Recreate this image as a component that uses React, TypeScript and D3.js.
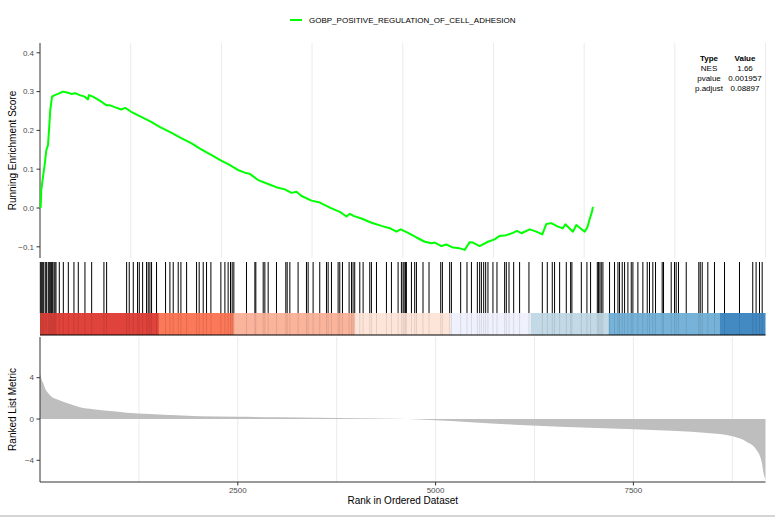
import React from "react";
import * as d3 from "d3";

const W = 775;
const H = 517;

const geneSetName = "GOBP_POSITIVE_REGULATION_OF_CELL_ADHESION";
const totalRanks = 9170;

// running enrichment score (rank, score)
const esRank = [0, 9, 16, 38, 59, 80, 101, 114, 130, 152, 186, 227, 290, 354, 395, 446, 501, 565, 606, 619, 669, 754, 837, 880, 943, 1027, 1077, 1153, 1279, 1406, 1512, 1658, 1785, 1911, 2037, 2164, 2290, 2396, 2501, 2589, 2652, 2757, 2884, 3010, 3095, 3179, 3242, 3306, 3432, 3537, 3685, 3790, 3874, 3916, 3970, 4063, 4190, 4316, 4421, 4505, 4560, 4652, 4758, 4863, 4947, 4989, 5074, 5137, 5220, 5305, 5368, 5389, 5431, 5473, 5557, 5662, 5747, 5810, 5894, 5978, 6028, 6084, 6189, 6274, 6349, 6400, 6463, 6546, 6609, 6640, 6736, 6779, 6884, 6918, 6947, 6976, 6989];
const esScore = [0.0, 0.003, 0.046, 0.081, 0.111, 0.149, 0.162, 0.201, 0.253, 0.287, 0.291, 0.294, 0.3, 0.297, 0.294, 0.296, 0.291, 0.287, 0.28, 0.291, 0.287, 0.277, 0.265, 0.265, 0.26, 0.254, 0.258, 0.248, 0.235, 0.222, 0.209, 0.194, 0.18, 0.167, 0.151, 0.137, 0.122, 0.111, 0.098, 0.091, 0.088, 0.072, 0.062, 0.052, 0.048, 0.039, 0.042, 0.031, 0.019, 0.014, -0.001, -0.01, -0.022, -0.015, -0.021, -0.027, -0.038, -0.046, -0.052, -0.061, -0.055, -0.064, -0.076, -0.087, -0.091, -0.089, -0.098, -0.094, -0.102, -0.104, -0.108, -0.101, -0.088, -0.089, -0.098, -0.087, -0.081, -0.072, -0.07, -0.064, -0.059, -0.065, -0.055, -0.061, -0.068, -0.041, -0.039, -0.048, -0.052, -0.042, -0.061, -0.044, -0.061, -0.05, -0.029, -0.01, 0.003];

// positions of gene-set members in the ranked list
const hitRanks = [4, 17, 34, 47, 67, 84, 105, 118, 135, 147, 160, 177, 189, 202, 244, 295, 358, 429, 484, 568, 653, 808, 842, 1095, 1128, 1179, 1233, 1255, 1297, 1347, 1368, 1389, 1410, 1473, 1587, 1642, 1684, 1747, 1781, 1853, 1979, 2012, 2063, 2105, 2160, 2286, 2337, 2378, 2408, 2429, 2450, 2610, 2716, 2728, 2821, 2842, 2884, 2989, 3107, 3124, 3158, 3262, 3368, 3389, 3452, 3536, 3621, 3642, 3684, 3768, 3789, 3823, 3907, 3937, 3957, 3978, 4042, 4084, 4168, 4189, 4253, 4379, 4442, 4526, 4568, 4589, 4602, 4619, 4631, 4695, 4736, 4758, 4841, 4917, 5065, 5086, 5178, 5200, 5317, 5397, 5453, 5528, 5557, 5579, 5608, 5633, 5662, 5725, 5776, 5873, 5894, 5928, 5987, 6062, 6180, 6349, 6412, 6475, 6504, 6568, 6652, 6707, 6723, 6842, 6913, 6959, 7044, 7060, 7077, 7094, 7115, 7199, 7262, 7305, 7325, 7359, 7389, 7431, 7473, 7494, 7557, 7620, 7675, 7704, 7746, 7780, 7864, 7881, 7978, 8020, 8041, 8070, 8168, 8327, 8345, 8370, 8441, 8525, 8652, 8841, 9009, 9051, 9094, 9128];

// colour band
const bandBreaks = [0, 1503, 2450, 3978, 5191, 6201, 7186, 8588, 9170];
const bandColors = ["#E0433B", "#FB7858", "#FBB49C", "#FEE5D9", "#EFF2FD", "#C3DAE6", "#77B3D9", "#4389C2"];

// ranked list metric (rank, value)
const metricRank = [0, 21, 42, 63, 105, 147, 211, 294, 379, 505, 673, 884, 1095, 1389, 1726, 2020, 2500, 3000, 3500, 4000, 4500, 4800, 5200, 5600, 6000, 6570, 7500, 8475, 8765, 8930, 9057, 9120, 9150, 9170];
const metricValue = [4.45, 3.78, 3.45, 2.97, 2.49, 2.16, 1.91, 1.68, 1.45, 1.13, 0.94, 0.77, 0.61, 0.48, 0.36, 0.27, 0.22, 0.17, 0.12, 0.07, 0.02, -0.05, -0.2, -0.38, -0.55, -0.74, -1.0, -1.39, -1.7, -2.2, -3.0, -4.1, -5.4, -5.9];

const xTicks = [2500, 5000, 7500];
const topYTicks = [-0.1, 0.0, 0.1, 0.2, 0.3, 0.4];
const bottomYTicks = [-4, 0, 4];

const tableHeader = ["Type", "Value"];
const tableTypes = ["NES", "pvalue", "p.adjust"];
const tableValues = ["1.66", "0.001957", "0.08897"];

const FONT = "'Liberation Sans', Arial, sans-serif";

export default function App() {
  const left = 40;
  const right = 765.5;
  const x = d3.scaleLinear().domain([0, totalRanks]).range([left, right]);

  // top panel
  const topT = 43;
  const topB = 258;
  const yTop = d3.scaleLinear().domain([-0.1, 0.4]).range([246.8, 52.8]);
  const topGrid = d3.range(1, 9).map((k) => left + ((right - left) * k) / 8);

  // barcode panel
  const barT = 262;
  const barB = 313;
  const bandB = 335;

  // bottom panel
  const botT = 337;
  const botB = 482;
  const yBot = d3.scaleLinear().domain([-6.1, 7.94]).range([botB, botT]);
  const botGrid = d3.range(1, 8).map((k) => 1250 * k);

  const esData = esRank.map((r, i) => [r, esScore[i]] as [number, number]);
  const line = d3
    .line<[number, number]>()
    .x((d) => x(d[0]))
    .y((d) => yTop(d[1]));

  const mData = metricRank.map((r, i) => [r, metricValue[i]] as [number, number]);
  const area = d3
    .area<[number, number]>()
    .x((d) => x(d[0]))
    .y0(yBot(0))
    .y1((d) => yBot(d[1]))
    .curve(d3.curveMonotoneX);

  const tickColor = "#4D4D4D";

  return (
    <svg
      width={W}
      height={H}
      style={{ position: "absolute", left: 0, top: 0, background: "#fff" }}
      fontFamily={FONT}
    >
      <rect x={0} y={0} width={W} height={H} fill="#fff" />

      {/* legend */}
      <line x1={290} x2={302} y1={20} y2={20} stroke="#00FF00" strokeWidth={2} />
      <text x={309} y={23} fontSize={8} fill="#000">
        {geneSetName}
      </text>

      {/* top panel grid */}
      {topGrid.map((gx, i) => (
        <line key={"tg" + i} x1={gx} x2={gx} y1={topT} y2={topB} stroke="#EBEBEB" strokeWidth={1} />
      ))}
      {/* top axis */}
      <line x1={left} x2={left} y1={topT} y2={topB} stroke="#333" strokeWidth={1} />
      {topYTicks.map((t) => (
        <g key={"ty" + t}>
          <line x1={36.5} x2={left} y1={yTop(t)} y2={yTop(t)} stroke="#333" strokeWidth={1} />
          <text x={34} y={yTop(t) + 2.8} fontSize={8} textAnchor="end" fill={tickColor}>
            {t === 0 ? "0.0" : t < 0 ? "\u22120.1" : d3.format(".1f")(t)}
          </text>
        </g>
      ))}
      <text
        transform={`translate(15.5,${(topT + topB) / 2}) rotate(-90)`}
        fontSize={10}
        textAnchor="middle"
        fill="#000"
      >
        Running Enrichment Score
      </text>

      {/* running score */}
      <path d={line(esData) || ""} fill="none" stroke="#00FF00" strokeWidth={2} strokeLinejoin="round" />

      {/* table */}
      <text x={709} y={61} fontSize={8} fontWeight="bold" textAnchor="middle" fill="#000">
        {tableHeader[0]}
      </text>
      <text x={745} y={61} fontSize={8} fontWeight="bold" textAnchor="middle" fill="#000">
        {tableHeader[1]}
      </text>
      {tableTypes.map((t, i) => (
        <g key={"tr" + i}>
          <text x={709} y={71 + i * 9.8} fontSize={8} textAnchor="middle" fill="#000">
            {t}
          </text>
          <text x={745} y={71 + i * 9.8} fontSize={8} textAnchor="middle" fill="#000">
            {tableValues[i]}
          </text>
        </g>
      ))}

      {/* colour band */}
      {bandColors.map((c, i) => (
        <rect
          key={"b" + i}
          x={x(bandBreaks[i])}
          y={barB}
          width={x(bandBreaks[i + 1]) - x(bandBreaks[i])}
          height={bandB - barB}
          fill={c}
        />
      ))}
      {/* hits */}
      {hitRanks.map((r, i) => (
        <g key={"h" + i}>
          <line x1={x(r)} x2={x(r)} y1={barT} y2={barB} stroke="#000" strokeWidth={1} />
          <line x1={x(r)} x2={x(r)} y1={barB} y2={bandB} stroke="#000" strokeOpacity={0.1} strokeWidth={1} />
        </g>
      ))}
      <line x1={left} x2={right} y1={bandB} y2={bandB} stroke="#000" strokeWidth={1.2} />

      {/* bottom panel grid */}
      {botGrid.map((g, i) => (
        <line key={"bg" + i} x1={x(g)} x2={x(g)} y1={botT} y2={botB} stroke="#EBEBEB" strokeWidth={1} />
      ))}
      <path d={area(mData) || ""} fill="#BEBEBE" stroke="none" />
      <line x1={left} x2={left} y1={botT} y2={botB} stroke="#333" strokeWidth={1} />
      <line x1={left} x2={right} y1={botB} y2={botB} stroke="#333" strokeWidth={1} />
      {bottomYTicks.map((t) => (
        <g key={"by" + t}>
          <line x1={36.5} x2={left} y1={yBot(t)} y2={yBot(t)} stroke="#333" strokeWidth={1} />
          <text x={34} y={yBot(t) + 2.8} fontSize={8} textAnchor="end" fill={tickColor}>
            {t < 0 ? "\u2212" + Math.abs(t) : String(t)}
          </text>
        </g>
      ))}
      {xTicks.map((t) => (
        <g key={"bx" + t}>
          <line x1={x(t)} x2={x(t)} y1={botB} y2={botB + 3.5} stroke="#333" strokeWidth={1} />
          <text x={x(t)} y={botB + 11} fontSize={8} textAnchor="middle" fill={tickColor}>
            {t}
          </text>
        </g>
      ))}
      <text
        transform={`translate(15.5,${(botT + botB) / 2}) rotate(-90)`}
        fontSize={10}
        textAnchor="middle"
        fill="#000"
      >
        Ranked List Metric
      </text>
      <text x={(left + right) / 2} y={504} fontSize={10} textAnchor="middle" fill="#000">
        Rank in Ordered Dataset
      </text>

      <line x1={0} x2={W} y1={516} y2={516} stroke="#ABABAB" strokeWidth={1} />
    </svg>
  );
}
